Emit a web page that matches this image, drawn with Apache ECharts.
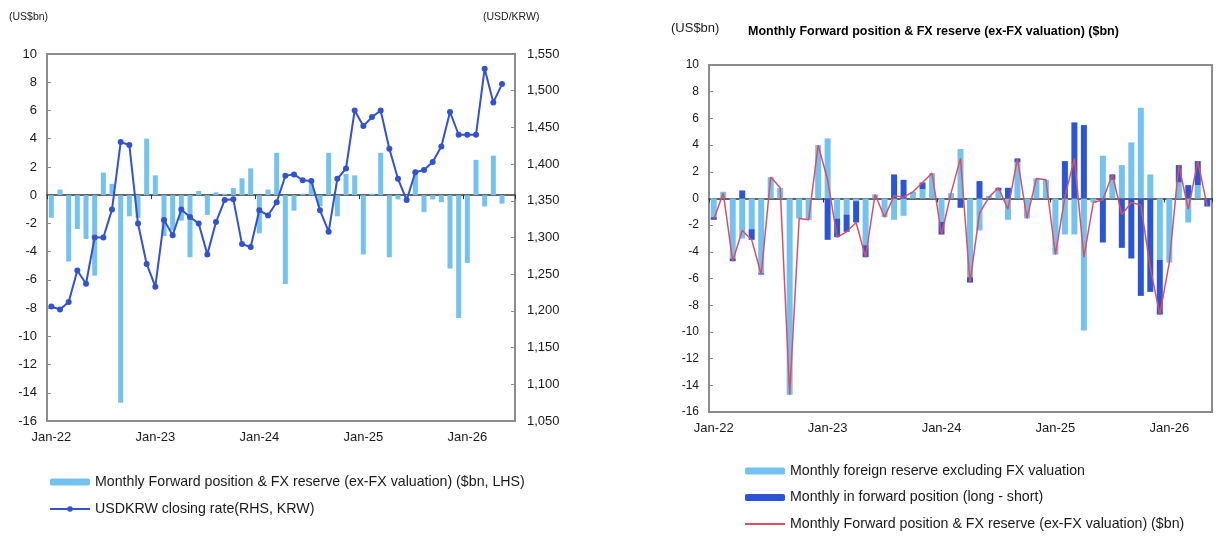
<!DOCTYPE html>
<html><head><meta charset="utf-8">
<script src="https://cdn.jsdelivr.net/npm/echarts@6/dist/echarts.min.js"></script>
<style>html,body{margin:0;padding:0;background:#fff}#c{width:1220px;height:536px}</style>
</head><body><div id="c"></div><script>
// Month categories (left chart has one trailing empty slot)
const monthsLeft = ['Jan-22','Feb-22','Mar-22','Apr-22','May-22','Jun-22','Jul-22','Aug-22','Sep-22','Oct-22','Nov-22','Dec-22',
 'Jan-23','Feb-23','Mar-23','Apr-23','May-23','Jun-23','Jul-23','Aug-23','Sep-23','Oct-23','Nov-23','Dec-23',
 'Jan-24','Feb-24','Mar-24','Apr-24','May-24','Jun-24','Jul-24','Aug-24','Sep-24','Oct-24','Nov-24','Dec-24',
 'Jan-25','Feb-25','Mar-25','Apr-25','May-25','Jun-25','Jul-25','Aug-25','Sep-25','Oct-25','Nov-25','Dec-25',
 'Jan-26','Feb-26','Mar-26','Apr-26','May-26','Jun-26'];
const monthsRight = ['Jan-22','Feb-22','Mar-22','Apr-22','May-22','Jun-22','Jul-22','Aug-22','Sep-22','Oct-22','Nov-22','Dec-22',
 'Jan-23','Feb-23','Mar-23','Apr-23','May-23','Jun-23','Jul-23','Aug-23','Sep-23','Oct-23','Nov-23','Dec-23',
 'Jan-24','Feb-24','Mar-24','Apr-24','May-24','Jun-24','Jul-24','Aug-24','Sep-24','Oct-24','Nov-24','Dec-24',
 'Jan-25','Feb-25','Mar-25','Apr-25','May-25','Jun-25','Jul-25','Aug-25','Sep-25','Oct-25','Nov-25','Dec-25',
 'Jan-26','Feb-26','Mar-26','Apr-26','May-26'];

// Monthly forward position & FX reserve (ex-FX valuation), US$bn
const totalFlow = [-1.6,0.4,-4.7,-2.4,-3.1,-5.7,1.6,0.8,-14.7,-1.5,-1.6,4.0,
 1.4,-2.9,-2.5,-1.8,-4.4,0.3,-1.4,0.2,0.1,0.5,1.2,1.9,
 -2.7,0.4,3.0,-6.3,-1.1,0.1,0.8,-0.8,3.0,-1.5,1.5,1.4,
 -4.2,0.1,3.0,-4.4,-0.3,-0.1,1.8,-1.2,-0.3,-0.5,-5.2,-8.7,
 -4.8,2.5,-0.8,2.8,-0.6];
// Monthly foreign reserve excluding FX valuation, US$bn
const reserveFlow = [-1.4,0.5,-4.5,-3.0,-2.3,-5.6,1.6,0.8,-14.7,-1.5,-1.6,4.0,
 4.5,-1.5,-1.2,-0.2,-3.5,0.3,-1.4,-1.6,-1.3,0.5,0.7,1.9,
 -1.75,0.4,3.7,-5.9,-2.4,0.2,0.6,-1.6,2.7,-1.5,1.5,1.4,
 -4.2,-2.7,-2.7,-9.9,-0.3,3.2,1.4,2.5,4.2,6.8,1.8,-4.6,
 -4.8,1.2,-1.8,1.0,0.0];
// Monthly change in forward position (long - short), US$bn
const forwardFlow = [-0.2,-0.1,-0.2,0.6,-0.8,-0.1,0,0,0,0,0,0,
 -3.1,-1.4,-1.3,-1.6,-0.9,0,0,1.8,1.4,0,0.5,0,
 -0.95,0,-0.7,-0.4,1.3,-0.1,0.2,0.8,0.3,0,0,0,
 0,2.8,5.7,5.5,0,-3.3,0.4,-3.7,-4.5,-7.3,-7.0,-4.1,
 0,1.3,1.0,1.8,-0.6];
// USDKRW month-end closing rate
const usdkrw = [1206,1202,1212,1255,1237,1300,1300,1338,1430,1426,1319,1264,
 1233,1324,1303,1338,1328,1319,1277,1321,1351,1352,1291,1287,
 1337,1330,1348,1384,1386,1378,1377,1337,1308,1380,1394,1473,
 1452,1464,1473,1421,1380,1351,1389,1392,1403,1424,1471,1440,
 1440,1440,1530,1484,1509];

const leftTicks = {min:-16, max:10, interval:2};
const rightTicks = {min:1050, max:1550, interval:50};

const FONT = '"Liberation Sans", Arial, sans-serif';
const TXT = '#1a1a1a';
const LIGHT = '#74C2EF';
const DARK = '#2B55D8';
const KRW = '#3352D0';
const RED = '#DA4F68';
const AX = '#8c8c8c';

const chart = echarts.init(document.getElementById('c'), null, {renderer:'canvas'});

function bottomX(gridIndex, data){
  return {type:'category', gridIndex, data, position:'bottom', boundaryGap:true,
    axisLine:{show:true, onZero:false, lineStyle:{color:AX, width:2}},
    axisTick:{show:false},
    axisLabel:{interval:11, color:TXT, fontFamily:FONT, fontSize:13, margin:10},
    splitLine:{show:false}};
}
function zeroX(gridIndex, data, yIdx){
  return {type:'category', gridIndex, data, position:'top', boundaryGap:true,
    axisLine:{show:true, onZero:true, onZeroAxisIndex:yIdx, lineStyle:{color:'#333', width:1.5}},
    axisTick:{show:true, interval:11, length:4, inside:true, lineStyle:{color:'#333'}},
    axisLabel:{show:false}, splitLine:{show:false}};
}

chart.setOption({
  animation:false,
  backgroundColor:'#fff',
  textStyle:{fontFamily:FONT},
  grid:[
    {left:47, top:54, width:468, height:367, show:true, borderColor:AX, borderWidth:2, backgroundColor:'transparent'},
    {left:709, top:65, width:503, height:347, show:true, borderColor:AX, borderWidth:2, backgroundColor:'transparent'}
  ],
  xAxis:[
    bottomX(0, monthsLeft),
    zeroX(0, monthsLeft, 0),
    bottomX(1, monthsRight),
    zeroX(1, monthsRight, 2)
  ],
  yAxis:[
    {type:'value', gridIndex:0, position:'left', min:leftTicks.min, max:leftTicks.max, interval:leftTicks.interval,
     axisLine:{show:true, lineStyle:{color:AX, width:2}}, axisTick:{show:true, inside:true, length:4, lineStyle:{color:AX}},
     splitLine:{show:false}, axisLabel:{color:TXT, fontFamily:FONT, fontSize:13, margin:10}},
    {type:'value', gridIndex:0, position:'right', min:rightTicks.min, max:rightTicks.max, interval:rightTicks.interval,
     axisLine:{show:true, lineStyle:{color:AX, width:2}}, axisTick:{show:true, inside:true, length:4, lineStyle:{color:AX}},
     splitLine:{show:false},
     axisLabel:{color:TXT, fontFamily:FONT, fontSize:13, margin:12, formatter:v=>v.toLocaleString('en-US')}},
    {type:'value', gridIndex:1, position:'left', min:leftTicks.min, max:leftTicks.max, interval:leftTicks.interval,
     axisLine:{show:true, lineStyle:{color:AX, width:2}}, axisTick:{show:true, inside:true, length:4, lineStyle:{color:AX}},
     splitLine:{show:false}, axisLabel:{color:TXT, fontFamily:FONT, fontSize:12, margin:10}}
  ],
  legend:[
    {orient:'vertical', left:44, top:470, itemWidth:40, itemHeight:7, itemGap:13,
     textStyle:{color:TXT, fontFamily:FONT, fontSize:14.2},
     data:['Monthly Forward position & FX reserve (ex-FX valuation) ($bn, LHS)','USDKRW closing rate(RHS, KRW)']},
    {orient:'vertical', left:739, top:459, itemWidth:40, itemHeight:7, itemGap:12.5,
     textStyle:{color:TXT, fontFamily:FONT, fontSize:14.2},
     data:['Monthly foreign reserve excluding FX valuation','Monthly in forward position (long - short)',
       {name:'Monthly Forward position & FX reserve (ex-FX valuation) ($bn)', itemStyle:{opacity:0}}]}
  ],
  graphic:[
    {type:'text', left:9, top:12, style:{text:'(US$bn)', fill:TXT, font:'10.5px '+FONT}},
    {type:'text', left:483, top:12, style:{text:'(USD/KRW)', fill:TXT, font:'10.5px '+FONT}},
    {type:'text', left:671, top:22, style:{text:'(US$bn)', fill:TXT, font:'13px '+FONT}},
    {type:'text', left:748, top:25, style:{text:'Monthly Forward position & FX reserve (ex-FX valuation) ($bn)', fill:'#000', font:'bold 12.5px '+FONT}}
  ],
  series:[
    {name:'Monthly Forward position & FX reserve (ex-FX valuation) ($bn, LHS)', type:'bar', xAxisIndex:0, yAxisIndex:0,
     data:totalFlow, barWidth:5, itemStyle:{color:LIGHT}, z:2},
    {name:'USDKRW closing rate(RHS, KRW)', type:'line', xAxisIndex:0, yAxisIndex:1, data:usdkrw,
     symbol:'circle', symbolSize:6, showSymbol:true, showAllSymbol:true, itemStyle:{color:KRW}, lineStyle:{color:KRW, width:2}, z:4},
    {name:'Monthly foreign reserve excluding FX valuation', type:'bar', xAxisIndex:2, yAxisIndex:2, stack:'fx',
     data:reserveFlow, barWidth:6, itemStyle:{color:LIGHT}, z:2},
    {name:'Monthly in forward position (long - short)', type:'bar', xAxisIndex:2, yAxisIndex:2, stack:'fx',
     data:forwardFlow, barWidth:6, itemStyle:{color:DARK}, z:2},
    {name:'Monthly Forward position & FX reserve (ex-FX valuation) ($bn)', type:'line', xAxisIndex:2, yAxisIndex:2,
     data:totalFlow, symbol:'none',
     itemStyle:{color:RED}, lineStyle:{color:RED, width:1.5}, z:4}
  ]
});
</script></body></html>
